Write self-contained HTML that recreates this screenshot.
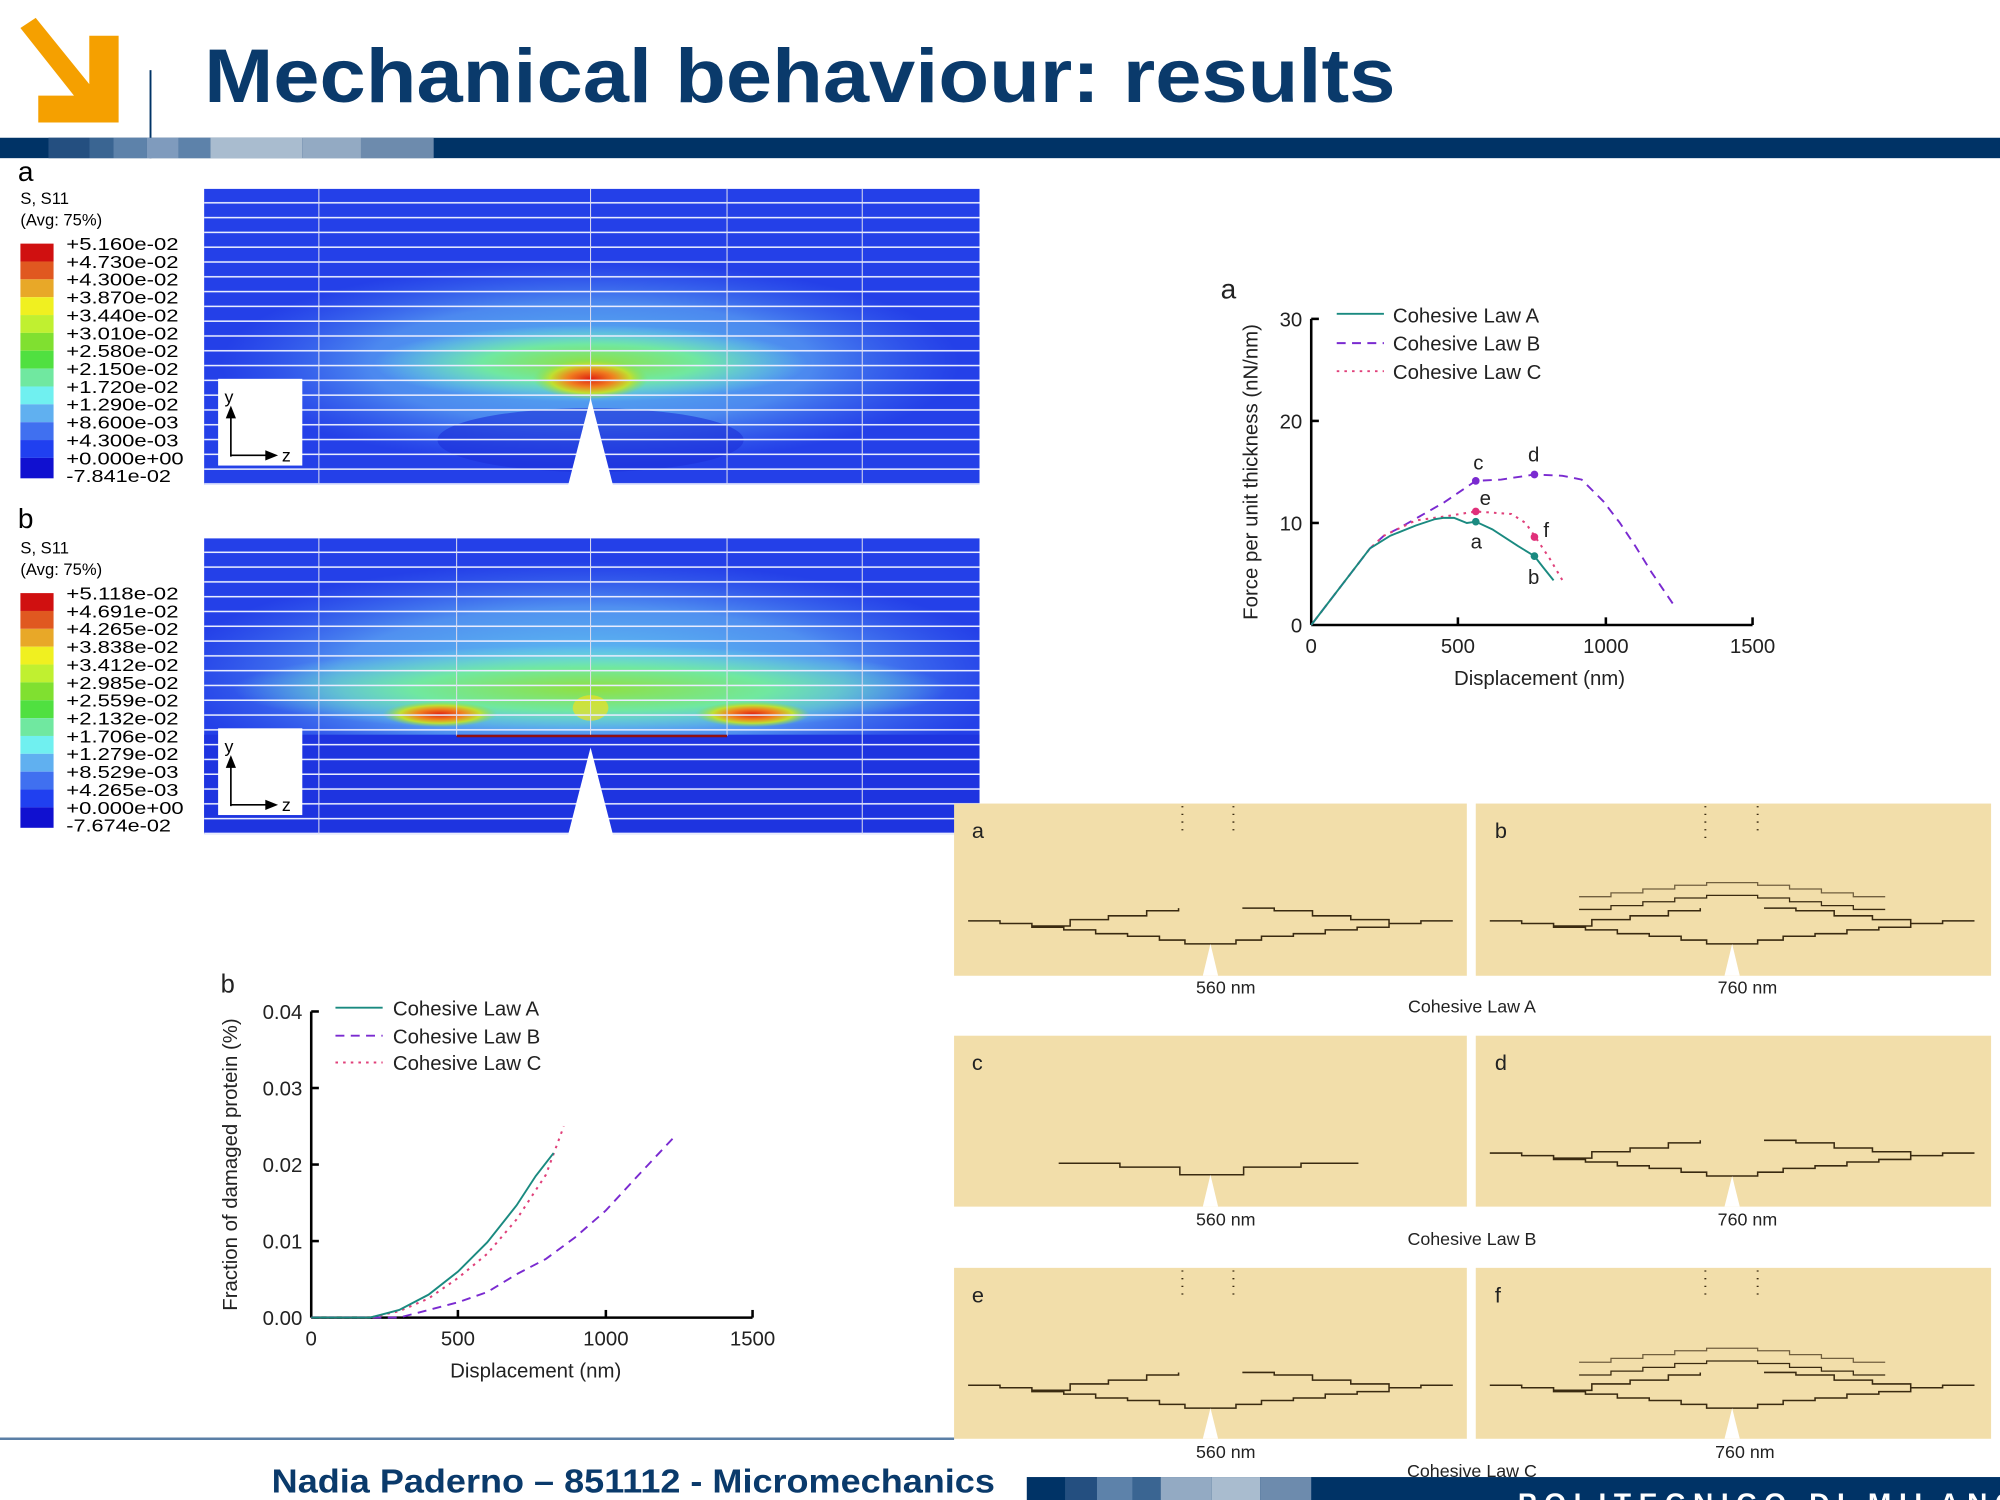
<!DOCTYPE html>
<html><head><meta charset="utf-8"><style>
html,body{margin:0;padding:0;background:#fff;}
svg{display:block;}
text{font-family:"Liberation Sans",sans-serif;}
</style></head><body>
<svg width="2000" height="1500" viewBox="0 0 1568 1176" xmlns="http://www.w3.org/2000/svg">
<defs>
<clipPath id="cA"><rect x="160" y="148" width="608" height="232"/></clipPath>
<clipPath id="cB"><rect x="160" y="422" width="608" height="232"/></clipPath>
<pattern id="rows" x="0" y="148" width="20" height="11.6" patternUnits="userSpaceOnUse">
<rect x="0" y="10.4" width="20" height="1.3" fill="#e8ecff"/>
</pattern>
<pattern id="rowsb" x="0" y="422" width="20" height="11.6" patternUnits="userSpaceOnUse">
<rect x="0" y="10.4" width="20" height="1.3" fill="#e8ecff"/>
</pattern>
<radialGradient id="hotA" cx="0.5" cy="0.5" r="0.5">
<stop offset="0" stop-color="#e02010"/><stop offset="0.4" stop-color="#f08020"/><stop offset="0.7" stop-color="#c0e030"/><stop offset="1" stop-color="#80e050" stop-opacity="0"/>
</radialGradient>
<radialGradient id="green" cx="0.5" cy="0.5" r="0.5">
<stop offset="0" stop-color="#90e040"/><stop offset="0.5" stop-color="#70e8a0"/><stop offset="1" stop-color="#70e8e0" stop-opacity="0"/>
</radialGradient>
<radialGradient id="lblue" cx="0.5" cy="0.5" r="0.5">
<stop offset="0" stop-color="#60c8f0"/><stop offset="0.6" stop-color="#5090f0"/><stop offset="1" stop-color="#4070f0" stop-opacity="0"/>
</radialGradient>
<path id="crack" d="M-190,-18 H-165 V-16 H-140 V-13 H-115 V-11 H-90 V-8 H-65 V-6 H-40 V-3 H-20 V0 H20 V-3 H40 V-6 H65 V-8 H90 V-11 H115 V-13 H140 V-16 H165 V-18 H190 M-140,-14 H-110 V-19 H-80 V-22 H-50 V-26 H-25 V-28 M25,-28 H50 V-26 H80 V-22 H110 V-19 H140 V-14" fill="none" stroke="#3a2a10" stroke-width="1.2"/>
<path id="crack2" d="M-120,-2 H-95 V-5 H-70 V-8 H-45 V-11 H-20 V-13 H20 V-11 H45 V-8 H70 V-5 H95 V-2 H120" fill="none" stroke="#3a2a10" stroke-width="1"/>
</defs>

<!-- header -->
<polygon points="16,22 28,14 70,66 70,28 93,28 93,96 30,96 30,75 58,75" fill="#f5a000"/>
<line x1="118" y1="55" x2="118" y2="124" stroke="#003366" stroke-width="1.5"/>
<text x="160" y="80" font-size="60" font-weight="bold" fill="#0a3a6b" textLength="934" lengthAdjust="spacingAndGlyphs">Mechanical behaviour: results</text>
<rect x="0" y="108" width="1568" height="16" fill="#003366"/>
<rect x="38" y="108" width="32" height="16" fill="#244f80"/>
<rect x="70" y="108" width="19" height="16" fill="#3a6592"/>
<rect x="89" y="108" width="26" height="16" fill="#5d82aa"/>
<rect x="115" y="108" width="25" height="16" fill="#7f9bbd"/>
<rect x="140" y="108" width="25" height="16" fill="#5d82aa"/>
<rect x="165" y="108" width="72" height="16" fill="#a9bccf"/>
<rect x="237" y="108" width="46" height="16" fill="#93aac3"/>
<rect x="283" y="108" width="57" height="16" fill="#6d8bad"/>

<!-- plot a -->
<text x="14" y="142" font-size="22">a</text>
<text x="16" y="160" font-size="13" font-family="DejaVu Sans, sans-serif">S, S11</text>
<text x="16" y="177" font-size="13" font-family="DejaVu Sans, sans-serif">(Avg: 75%)</text>
<g clip-path="url(#cA)">
<rect x="160" y="148" width="608" height="232" fill="#2440e8"/>
<ellipse cx="463" cy="285" rx="290" ry="80" fill="url(#lblue)" opacity="0.9"/>
<ellipse cx="463" cy="285" rx="170" ry="30" fill="url(#green)"/>
<ellipse cx="463" cy="297" rx="45" ry="16" fill="url(#hotA)"/>
<ellipse cx="463" cy="345" rx="120" ry="25" fill="#1d30d8" opacity="0.6"/>
<rect x="160" y="148" width="608" height="232" fill="url(#rows)"/>
<line x1="250" y1="148" x2="250" y2="380" stroke="#dde" stroke-width="0.8"/>
<line x1="463" y1="148" x2="463" y2="320" stroke="#dde" stroke-width="0.8"/>
<line x1="570" y1="148" x2="570" y2="380" stroke="#dde" stroke-width="0.8"/>
<line x1="676" y1="148" x2="676" y2="380" stroke="#dde" stroke-width="0.8"/>
</g>
<polygon points="445,382 463,312 481,382" fill="#fff"/>
<rect x="171" y="297" width="66" height="68" fill="#fff"/>
<line x1="181" y1="358" x2="181" y2="320" stroke="#000" stroke-width="1.3"/><polygon points="177,328 181,318 185,328" fill="#000"/>
<line x1="181" y1="357" x2="214" y2="357" stroke="#000" stroke-width="1.3"/><polygon points="208,353 218,357 208,361" fill="#000"/>
<text x="176" y="316" font-size="14" font-family="DejaVu Sans, sans-serif">y</text>
<text x="221" y="362" font-size="14" font-family="DejaVu Sans, sans-serif">z</text>
<g font-family="DejaVu Sans, sans-serif" font-size="14">
<rect x="16" y="191" width="26" height="14" fill="#d01010"/><rect x="16" y="205" width="26" height="14" fill="#e05820"/>
<rect x="16" y="219" width="26" height="14" fill="#e8a828"/><rect x="16" y="233" width="26" height="14" fill="#f0f020"/>
<rect x="16" y="247" width="26" height="14" fill="#c0f030"/><rect x="16" y="261" width="26" height="14" fill="#80e030"/>
<rect x="16" y="275" width="26" height="14" fill="#50e040"/><rect x="16" y="289" width="26" height="14" fill="#70e8a0"/>
<rect x="16" y="303" width="26" height="14" fill="#70f0f0"/><rect x="16" y="317" width="26" height="14" fill="#60b0f0"/>
<rect x="16" y="331" width="26" height="14" fill="#4070f0"/><rect x="16" y="345" width="26" height="14" fill="#2040f0"/>
<rect x="16" y="359" width="26" height="16" fill="#1010d0"/>
<g lengthAdjust="spacingAndGlyphs">
<text x="52" y="196" textLength="88" lengthAdjust="spacingAndGlyphs">+5.160e-02</text><text x="52" y="210" textLength="88" lengthAdjust="spacingAndGlyphs">+4.730e-02</text>
<text x="52" y="224" textLength="88" lengthAdjust="spacingAndGlyphs">+4.300e-02</text><text x="52" y="238" textLength="88" lengthAdjust="spacingAndGlyphs">+3.870e-02</text>
<text x="52" y="252" textLength="88" lengthAdjust="spacingAndGlyphs">+3.440e-02</text><text x="52" y="266" textLength="88" lengthAdjust="spacingAndGlyphs">+3.010e-02</text>
<text x="52" y="280" textLength="88" lengthAdjust="spacingAndGlyphs">+2.580e-02</text><text x="52" y="294" textLength="88" lengthAdjust="spacingAndGlyphs">+2.150e-02</text>
<text x="52" y="308" textLength="88" lengthAdjust="spacingAndGlyphs">+1.720e-02</text><text x="52" y="322" textLength="88" lengthAdjust="spacingAndGlyphs">+1.290e-02</text>
<text x="52" y="336" textLength="88" lengthAdjust="spacingAndGlyphs">+8.600e-03</text><text x="52" y="350" textLength="88" lengthAdjust="spacingAndGlyphs">+4.300e-03</text>
<text x="52" y="364" textLength="92" lengthAdjust="spacingAndGlyphs">+0.000e+00</text><text x="52" y="378" textLength="82" lengthAdjust="spacingAndGlyphs">-7.841e-02</text>
</g>
</g>

<!-- plot b -->
<text x="14" y="414" font-size="22">b</text>
<text x="16" y="434" font-size="13" font-family="DejaVu Sans, sans-serif">S, S11</text>
<text x="16" y="451" font-size="13" font-family="DejaVu Sans, sans-serif">(Avg: 75%)</text>
<g clip-path="url(#cB)">
<rect x="160" y="422" width="608" height="232" fill="#2440e8"/>
<ellipse cx="463" cy="530" rx="330" ry="90" fill="url(#lblue)"/>
<ellipse cx="463" cy="540" rx="280" ry="34" fill="url(#green)"/>
<ellipse cx="345" cy="560" rx="45" ry="10" fill="url(#hotA)"/>
<ellipse cx="590" cy="560" rx="45" ry="10" fill="url(#hotA)"/>
<ellipse cx="463" cy="555" rx="14" ry="10" fill="#f0e020" opacity="0.7"/>
<rect x="160" y="576" width="608" height="78" fill="#1e34e0"/>
<rect x="160" y="422" width="608" height="232" fill="url(#rowsb)"/>
<line x1="250" y1="422" x2="250" y2="654" stroke="#dde" stroke-width="0.8"/>
<line x1="358" y1="422" x2="358" y2="577" stroke="#dde" stroke-width="0.8"/>
<line x1="463" y1="422" x2="463" y2="577" stroke="#dde" stroke-width="0.8"/>
<line x1="570" y1="422" x2="570" y2="577" stroke="#dde" stroke-width="0.8"/>
<line x1="676" y1="422" x2="676" y2="654" stroke="#dde" stroke-width="0.8"/>
<line x1="358" y1="577" x2="570" y2="577" stroke="#901010" stroke-width="2"/>
</g>
<polygon points="445,656 463,586 481,656" fill="#fff"/>
<rect x="171" y="571" width="66" height="68" fill="#fff"/>
<line x1="181" y1="632" x2="181" y2="594" stroke="#000" stroke-width="1.3"/><polygon points="177,602 181,592 185,602" fill="#000"/>
<line x1="181" y1="631" x2="214" y2="631" stroke="#000" stroke-width="1.3"/><polygon points="208,627 218,631 208,635" fill="#000"/>
<text x="176" y="590" font-size="14" font-family="DejaVu Sans, sans-serif">y</text>
<text x="221" y="636" font-size="14" font-family="DejaVu Sans, sans-serif">z</text>
<g font-family="DejaVu Sans, sans-serif" font-size="14">
<rect x="16" y="465" width="26" height="14" fill="#d01010"/><rect x="16" y="479" width="26" height="14" fill="#e05820"/>
<rect x="16" y="493" width="26" height="14" fill="#e8a828"/><rect x="16" y="507" width="26" height="14" fill="#f0f020"/>
<rect x="16" y="521" width="26" height="14" fill="#c0f030"/><rect x="16" y="535" width="26" height="14" fill="#80e030"/>
<rect x="16" y="549" width="26" height="14" fill="#50e040"/><rect x="16" y="563" width="26" height="14" fill="#70e8a0"/>
<rect x="16" y="577" width="26" height="14" fill="#70f0f0"/><rect x="16" y="591" width="26" height="14" fill="#60b0f0"/>
<rect x="16" y="605" width="26" height="14" fill="#4070f0"/><rect x="16" y="619" width="26" height="14" fill="#2040f0"/>
<rect x="16" y="633" width="26" height="16" fill="#1010d0"/>
<text x="52" y="470" textLength="88" lengthAdjust="spacingAndGlyphs">+5.118e-02</text><text x="52" y="484" textLength="88" lengthAdjust="spacingAndGlyphs">+4.691e-02</text>
<text x="52" y="498" textLength="88" lengthAdjust="spacingAndGlyphs">+4.265e-02</text><text x="52" y="512" textLength="88" lengthAdjust="spacingAndGlyphs">+3.838e-02</text>
<text x="52" y="526" textLength="88" lengthAdjust="spacingAndGlyphs">+3.412e-02</text><text x="52" y="540" textLength="88" lengthAdjust="spacingAndGlyphs">+2.985e-02</text>
<text x="52" y="554" textLength="88" lengthAdjust="spacingAndGlyphs">+2.559e-02</text><text x="52" y="568" textLength="88" lengthAdjust="spacingAndGlyphs">+2.132e-02</text>
<text x="52" y="582" textLength="88" lengthAdjust="spacingAndGlyphs">+1.706e-02</text><text x="52" y="596" textLength="88" lengthAdjust="spacingAndGlyphs">+1.279e-02</text>
<text x="52" y="610" textLength="88" lengthAdjust="spacingAndGlyphs">+8.529e-03</text><text x="52" y="624" textLength="88" lengthAdjust="spacingAndGlyphs">+4.265e-03</text>
<text x="52" y="638" textLength="92" lengthAdjust="spacingAndGlyphs">+0.000e+00</text><text x="52" y="652" textLength="82" lengthAdjust="spacingAndGlyphs">-7.674e-02</text>
</g>

<!-- chart a -->
<g font-size="16" fill="#222">
<text x="957" y="234" font-size="22">a</text>
<text transform="translate(986,370) rotate(-90)" text-anchor="middle">Force per unit thickness (nN/nm)</text>
<line x1="1028" y1="250" x2="1028" y2="490" stroke="#000" stroke-width="2"/>
<line x1="1028" y1="490" x2="1374" y2="490" stroke="#000" stroke-width="2"/>
<g stroke="#000" stroke-width="2"><line x1="1028" y1="250" x2="1034" y2="250"/><line x1="1028" y1="330" x2="1034" y2="330"/><line x1="1028" y1="410" x2="1034" y2="410"/>
<line x1="1143" y1="490" x2="1143" y2="484"/><line x1="1259" y1="490" x2="1259" y2="484"/><line x1="1374" y1="490" x2="1374" y2="484"/></g>
<text x="1021" y="256" text-anchor="end">30</text><text x="1021" y="336" text-anchor="end">20</text><text x="1021" y="416" text-anchor="end">10</text><text x="1021" y="496" text-anchor="end">0</text>
<text x="1028" y="512" text-anchor="middle">0</text><text x="1143" y="512" text-anchor="middle">500</text><text x="1259" y="512" text-anchor="middle">1000</text><text x="1374" y="512" text-anchor="middle">1500</text>
<text x="1207" y="537" text-anchor="middle">Displacement (nm)</text>
<line x1="1048" y1="246" x2="1085" y2="246" stroke="#1a8a80" stroke-width="1.5"/>
<line x1="1048" y1="269" x2="1085" y2="269" stroke="#7a2ad0" stroke-width="1.5" stroke-dasharray="7,5"/>
<line x1="1048" y1="291" x2="1085" y2="291" stroke="#e0407a" stroke-width="1.5" stroke-dasharray="2,4"/>
<text x="1092" y="253">Cohesive Law A</text><text x="1092" y="275">Cohesive Law B</text><text x="1092" y="297">Cohesive Law C</text>
<polyline fill="none" stroke="#7a2ad0" stroke-width="1.5" stroke-dasharray="7,5" points="1028,490 1074,430 1085,420 1097,414 1132,394 1157,377 1177,376 1203,372 1225,373 1240,376 1257,393 1270,410 1282,428 1295,449 1312,474"/>
<polyline fill="none" stroke="#e0407a" stroke-width="1.6" stroke-dasharray="2,4" points="1028,490 1074,430 1085,420 1110,408 1132,405 1157,401 1185,403 1196,410 1203,420 1215,438 1225,455"/>
<polyline fill="none" stroke="#1a8a80" stroke-width="1.5" points="1028,490 1074,430 1090,420 1110,412 1125,407 1132,406 1140,406 1150,410 1157,409 1170,415 1190,428 1203,436 1210,445 1218,455"/>
<circle cx="1157" cy="377" r="3" fill="#7a2ad0"/><circle cx="1203" cy="372" r="3" fill="#7a2ad0"/>
<circle cx="1157" cy="401" r="3" fill="#e0307a"/><circle cx="1203" cy="421" r="3" fill="#e0307a"/>
<circle cx="1157" cy="409" r="3" fill="#1a8a80"/><circle cx="1203" cy="436" r="3" fill="#1a8a80"/>
<text x="1155" y="368">c</text><text x="1198" y="362">d</text><text x="1160" y="396">e</text><text x="1210" y="421">f</text><text x="1153" y="430">a</text><text x="1198" y="458">b</text>
</g>

<!-- chart b -->
<g font-size="16" fill="#222">
<text x="173" y="778" font-size="20">b</text>
<text transform="translate(186,913) rotate(-90)" text-anchor="middle">Fraction of damaged protein (%)</text>
<line x1="244" y1="793" x2="244" y2="1033" stroke="#000" stroke-width="2"/>
<line x1="244" y1="1033" x2="590" y2="1033" stroke="#000" stroke-width="2"/>
<g stroke="#000" stroke-width="2"><line x1="244" y1="793" x2="250" y2="793"/><line x1="244" y1="853" x2="250" y2="853"/><line x1="244" y1="913" x2="250" y2="913"/><line x1="244" y1="973" x2="250" y2="973"/>
<line x1="359" y1="1033" x2="359" y2="1027"/><line x1="475" y1="1033" x2="475" y2="1027"/><line x1="590" y1="1033" x2="590" y2="1027"/></g>
<text x="237" y="799" text-anchor="end">0.04</text><text x="237" y="859" text-anchor="end">0.03</text><text x="237" y="919" text-anchor="end">0.02</text><text x="237" y="979" text-anchor="end">0.01</text><text x="237" y="1039" text-anchor="end">0.00</text>
<text x="244" y="1055" text-anchor="middle">0</text><text x="359" y="1055" text-anchor="middle">500</text><text x="475" y="1055" text-anchor="middle">1000</text><text x="590" y="1055" text-anchor="middle">1500</text>
<text x="420" y="1080" text-anchor="middle">Displacement (nm)</text>
<line x1="263" y1="790" x2="300" y2="790" stroke="#1a8a80" stroke-width="1.5"/>
<line x1="263" y1="812" x2="300" y2="812" stroke="#7a2ad0" stroke-width="1.5" stroke-dasharray="7,5"/>
<line x1="263" y1="833" x2="300" y2="833" stroke="#e0407a" stroke-width="1.5" stroke-dasharray="2,4"/>
<text x="308" y="796">Cohesive Law A</text><text x="308" y="818">Cohesive Law B</text><text x="308" y="839">Cohesive Law C</text>
<polyline fill="none" stroke="#7a2ad0" stroke-width="1.5" stroke-dasharray="7,5" points="244,1033 313,1033 336,1027 359,1021 382,1013 405,999 428,987 451,970 475,949 498,924 528,892"/>
<polyline fill="none" stroke="#e0407a" stroke-width="1.6" stroke-dasharray="2,4" points="244,1033 290,1033 313,1028 336,1018 359,1002 382,983 405,956 428,921 442,883"/>
<polyline fill="none" stroke="#1a8a80" stroke-width="1.5" points="244,1033 290,1033 313,1027 336,1015 359,997 382,974 405,945 420,922 434,904"/>
</g>

<!-- tan panels -->
<g font-size="15" fill="#222">
<rect x="748" y="630" width="402" height="135" fill="#f2deaa"/><rect x="1157" y="630" width="404" height="135" fill="#f2deaa"/>
<rect x="748" y="812" width="402" height="134" fill="#f2deaa"/><rect x="1157" y="812" width="404" height="134" fill="#f2deaa"/>
<rect x="748" y="994" width="402" height="134" fill="#f2deaa"/><rect x="1157" y="994" width="404" height="134" fill="#f2deaa"/>
<use href="#crack" x="949" y="740"/><use href="#crack" x="1358" y="740"/>
<use href="#crack2" x="1358" y="715"/><use href="#crack2" x="1358" y="705" opacity="0.7"/>
<path d="M830,912 H878 V915 H925 V921 H975 V915 H1020 V912 H1065" fill="none" stroke="#3a2a10" stroke-width="1.2"/>
<use href="#crack" x="1358" y="922"/>
<use href="#crack" x="949" y="1104"/><use href="#crack" x="1358" y="1104"/>
<use href="#crack2" x="1358" y="1080"/><use href="#crack2" x="1358" y="1070" opacity="0.7"/>
<polygon points="943,765 949,740 955,765" fill="#fff"/><polygon points="1352,765 1358,740 1364,765" fill="#fff"/>
<polygon points="943,946 949,921 955,946" fill="#fff"/><polygon points="1352,946 1358,922 1364,946" fill="#fff"/>
<polygon points="943,1128 949,1104 955,1128" fill="#fff"/><polygon points="1352,1128 1358,1104 1364,1128" fill="#fff"/>
<g stroke="#3a2a10" stroke-width="1.5" stroke-dasharray="1,5">
<line x1="927" y1="632" x2="927" y2="656"/><line x1="967" y1="632" x2="967" y2="656"/><line x1="1337" y1="632" x2="1337" y2="660"/><line x1="1378" y1="632" x2="1378" y2="656"/>
<line x1="927" y1="996" x2="927" y2="1020"/><line x1="967" y1="996" x2="967" y2="1020"/><line x1="1337" y1="996" x2="1337" y2="1020"/><line x1="1378" y1="996" x2="1378" y2="1020"/>
</g>
<text x="762" y="657" font-size="17">a</text><text x="1172" y="657" font-size="17">b</text>
<text x="762" y="839" font-size="17">c</text><text x="1172" y="839" font-size="17">d</text>
<text x="762" y="1021" font-size="17">e</text><text x="1172" y="1021" font-size="17">f</text>
<text x="961" y="779" text-anchor="middle" font-size="14">560 nm</text><text x="1370" y="779" text-anchor="middle" font-size="14">760 nm</text>
<text x="1154" y="794" text-anchor="middle" font-size="14">Cohesive Law A</text>
<text x="961" y="961" text-anchor="middle" font-size="14">560 nm</text><text x="1370" y="961" text-anchor="middle" font-size="14">760 nm</text>
<text x="1154" y="976" text-anchor="middle" font-size="14">Cohesive Law B</text>
<text x="961" y="1143" text-anchor="middle" font-size="14">560 nm</text><text x="1368" y="1143" text-anchor="middle" font-size="14">760 nm</text>
<text x="1154" y="1158" text-anchor="middle" font-size="14">Cohesive Law C</text>
</g>

<!-- footer -->
<line x1="0" y1="1128" x2="748" y2="1128" stroke="#5b7fa6" stroke-width="2"/>
<rect x="805" y="1158" width="763" height="18" fill="#003366"/>
<rect x="835" y="1158" width="25" height="18" fill="#244f80"/><rect x="860" y="1158" width="28" height="18" fill="#5d82aa"/>
<rect x="888" y="1158" width="22" height="18" fill="#3a6592"/><rect x="910" y="1158" width="40" height="18" fill="#93aac3"/>
<rect x="950" y="1158" width="38" height="18" fill="#a9bccf"/><rect x="988" y="1158" width="40" height="18" fill="#6d8bad"/>
<text x="1190" y="1186" font-size="22" font-weight="bold" fill="#fff" letter-spacing="6">POLITECNICO DI MILANO</text>
<text x="213" y="1170" font-size="26" font-weight="bold" fill="#0a3a6b" textLength="567" lengthAdjust="spacingAndGlyphs">Nadia Paderno – 851112 - Micromechanics</text>
</svg>
</body></html>
